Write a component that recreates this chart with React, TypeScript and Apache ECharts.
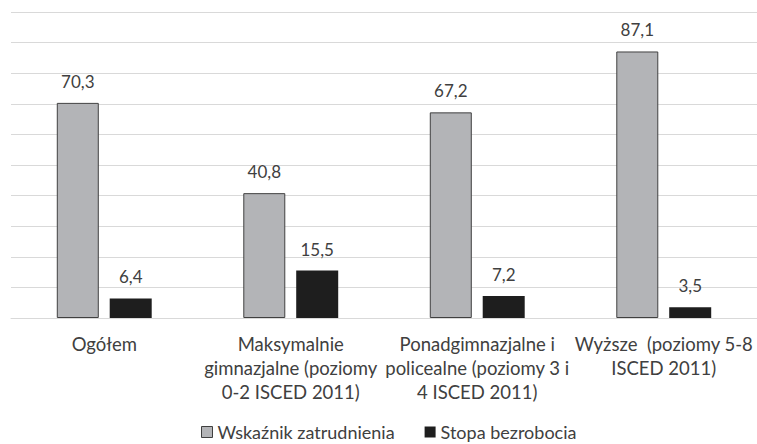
import React, { useEffect, useRef } from "react";
import * as echarts from "echarts";

const categories = [
  "Ogółem",
  "Maksymalnie\ngimnazjalne (poziomy\n0-2 ISCED 2011)",
  "Ponadgimnazjalne i\npolicealne (poziomy 3 i\n4 ISCED 2011)",
  "Wyższe  (poziomy 5-8\nISCED 2011)",
];
const employmentRate = [70.3, 40.8, 67.2, 87.1];
const unemploymentRate = [6.4, 15.5, 7.2, 3.5];
const seriesNames = ["Wskaźnik zatrudnienia", "Stopa bezrobocia"];

const FONT = "Lato, 'Open Sans', sans-serif";
const TEXT = "#404040";

export default function App() {
  const ref = useRef<HTMLDivElement>(null);
  useEffect(() => {
    document.body.style.margin = "0";
    const chart = echarts.init(ref.current!, undefined, { renderer: "svg" });
    const fmt = (p: any) => String(p.value).replace(".", ",");
    chart.setOption({
      animation: false,
      grid: { left: 11, right: -8, top: 12, bottom: 126, containLabel: false },
      legend: {
        left: 196,
        top: 418,
        padding: [5, 5, 2, 5],
        icon: "rect",
        itemWidth: 11,
        itemHeight: 11,
        itemGap: 30,
        textStyle: { fontFamily: FONT, fontSize: 18, color: TEXT, lineHeight: 18 },
        data: [
          { name: seriesNames[0], itemStyle: { color: "#b3b4b7", borderColor: "#404040", borderWidth: 1 } },
          { name: seriesNames[1], itemStyle: { color: "#1e1e1e" } },
        ],
      },
      xAxis: {
        type: "category",
        data: categories,
        axisLine: { show: true, lineStyle: { color: "#d9d9d9", width: 1 } },
        axisTick: { show: false },
        axisLabel: {
          interval: 0,
          margin: 14,
          fontFamily: FONT,
          fontSize: 18.5,
          lineHeight: 24,
          color: TEXT,
          align: "center",
        },
      },
      yAxis: {
        type: "value",
        min: 0,
        max: 100,
        interval: 10,
        axisLabel: { show: false },
        axisLine: { show: false },
        axisTick: { show: false },
        splitLine: { lineStyle: { color: "#d9d9d9", width: 1 } },
      },
      series: [
        {
          name: seriesNames[0],
          type: "bar",
          data: employmentRate,
          barWidth: 42,
          barGap: "26%",
          itemStyle: { color: "#b3b4b7", borderColor: "#404040", borderWidth: 1 },
          label: {
            show: true,
            position: "top",
            distance: 13,
            formatter: fmt,
            fontFamily: FONT,
            fontSize: 17,
            color: TEXT,
          },
        },
        {
          name: seriesNames[1],
          type: "bar",
          data: unemploymentRate,
          barWidth: 42,
          itemStyle: { color: "#1e1e1e" },
          label: {
            show: true,
            position: "top",
            distance: 13,
            formatter: fmt,
            fontFamily: FONT,
            fontSize: 17,
            color: TEXT,
          },
        },
      ],
    });
    return () => chart.dispose();
  }, []);
  return <div ref={ref} style={{ width: 757, height: 444 }} />;
}
